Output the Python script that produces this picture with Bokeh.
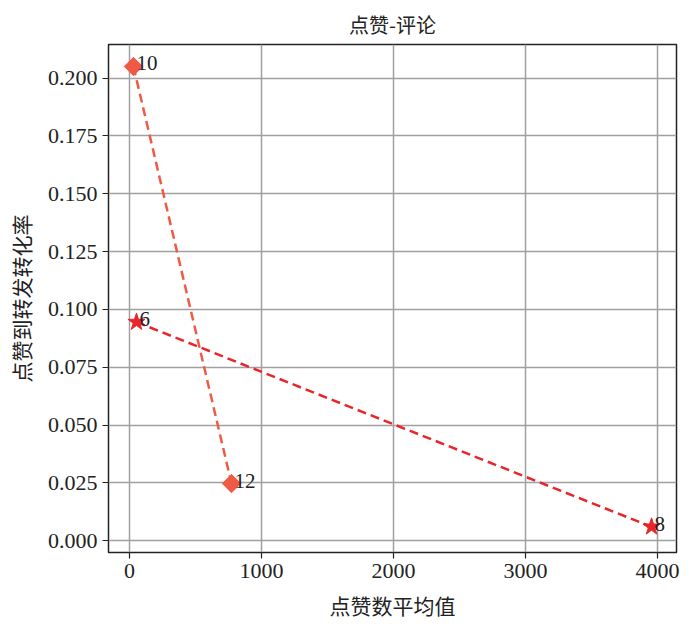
import math
from bokeh.plotting import figure
from bokeh.models import FixedTicker, NumeralTickFormatter, Range1d, ColumnDataSource
from bokeh.embed import file_html
from bokeh.resources import INLINE
from bokeh.core.properties import value

# data
s1_x = [30, 773]
s1_y = [0.205, 0.0247]
s1_labels = ["10", "12"]
s2_x = [53, 3955]
s2_y = [0.0945, 0.006]
s2_labels = ["6", "8"]
x_ticks = [0, 1000, 2000, 3000, 4000]
y_ticks = [0.0, 0.025, 0.05, 0.075, 0.1, 0.125, 0.15, 0.175, 0.2]
title_text = "点赞-评论"

c1 = "#ef5a45"
c2 = "#e8262a"
serif = "Liberation Serif"
cjk = "Noto Sans CJK SC"

p = figure(width=684, height=622, output_backend="svg", toolbar_location=None,
           x_range=Range1d(-159, 4144), y_range=Range1d(-0.0051, 0.2145),
           min_border_left=108, min_border_right=8, min_border_top=44, min_border_bottom=62)
p.title.text = title_text
p.title.align = "center"
p.title.vertical_align = "middle"
p.title.text_font = cjk
p.title.text_font_size = "20px"
p.title.text_font_style = "normal"
p.title.text_color = "#222222"

p.outline_line_color = "#222222"
p.outline_line_width = 1.5
p.background_fill_color = "white"

p.axis.axis_line_color = None
p.axis.major_tick_line_color = "#222222"
p.axis.major_tick_line_width = 1.2
p.axis.major_tick_out = 6
p.axis.major_tick_in = 0
p.axis.minor_tick_line_color = None
p.axis.major_label_text_font = serif
p.axis.major_label_text_font_size = "22px"
p.axis.major_label_text_color = "#222222"
p.axis.axis_label_text_font = cjk
p.axis.axis_label_text_font_size = "21px"
p.axis.axis_label_text_font_style = "normal"
p.axis.axis_label_text_color = "#222222"
p.axis.axis_label_standoff = 9

p.xaxis.ticker = FixedTicker(ticks=x_ticks)
p.yaxis.ticker = FixedTicker(ticks=y_ticks)
p.yaxis.formatter = NumeralTickFormatter(format="0.000")
p.xaxis.axis_label = "点赞数平均值"
p.yaxis.axis_label = "点赞到转发转化率"

p.grid.grid_line_color = "#a0a0a0"
p.grid.grid_line_width = 1.5

src1 = ColumnDataSource(dict(x=s1_x, y=s1_y, t=s1_labels))
src2 = ColumnDataSource(dict(x=s2_x, y=s2_y, t=s2_labels))

p.line("x", "y", source=src1, line_color=c1, line_width=2.5, line_dash="9 5")
p.scatter("x", "y", source=src1, marker="square", angle=math.pi / 4, size=13,
          fill_color=c1, line_color=c1)
p.line("x", "y", source=src2, line_color=c2, line_width=2.5, line_dash="9 5")
p.scatter("x", "y", source=src2, marker="star", size=18, fill_color=c2, line_color=c2)

for src in (src1, src2):
    p.text("x", "y", text="t", source=src, x_offset=3, y_offset=4,
           text_align="left", text_baseline="bottom",
           text_font=value(serif), text_font_size="21px", text_color="#222222")

open("out.html", "w").write(file_html(p, INLINE))
